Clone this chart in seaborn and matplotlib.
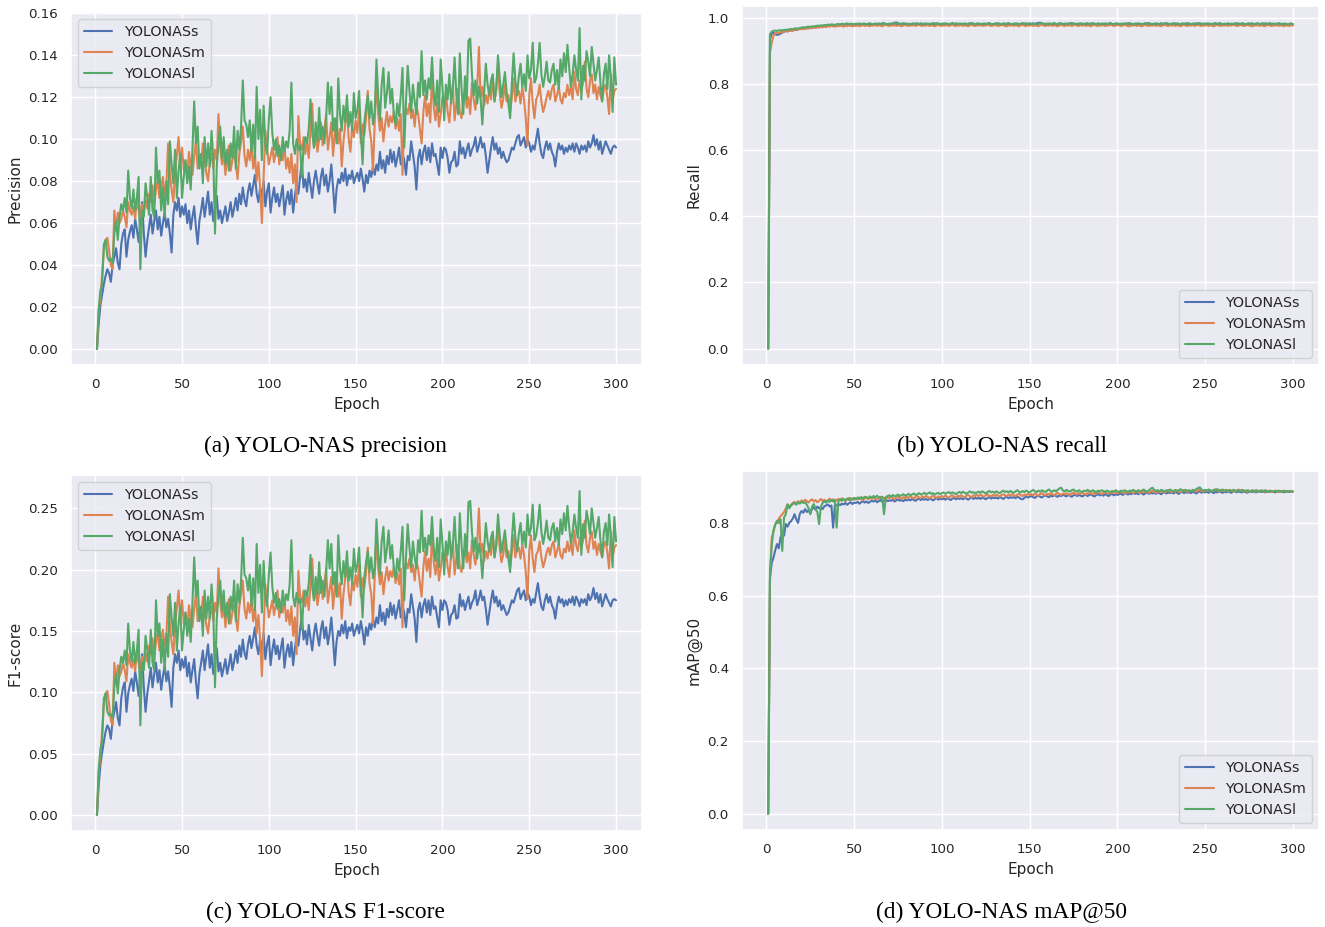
import numpy as np
import pandas as pd
import matplotlib
matplotlib.use("Agg")
import matplotlib.pyplot as plt
import seaborn as sns

epochs = list(range(1, 301))
models = ["YOLONASs", "YOLONASm", "YOLONASl"]
x_ticks = [0, 50, 100, 150, 200, 250, 300]

# ---- values, in thousandths (per-mille) ----
prec_s = [
    0, 12, 21, 26, 31, 35, 38, 36, 32, 40,
    44, 48, 41, 38, 50, 55, 57, 44, 52, 56,
    59, 53, 62, 57, 51, 60, 70, 55, 44, 52,
    58, 64, 55, 61, 66, 57, 63, 54, 60, 65,
    58, 62, 55, 46, 64, 70, 66, 72, 63, 68,
    64, 69, 60, 66, 57, 63, 68, 58, 50, 61,
    66, 72, 63, 69, 75, 64, 70, 61, 67, 73,
    62, 66, 60, 64, 68, 61, 65, 70, 63, 67,
    72, 66, 74, 69, 77, 71, 68, 75, 79, 73,
    78, 83, 74, 70, 77, 72, 80, 68, 75, 79,
    65, 72, 77, 70, 74, 68, 73, 78, 64, 71,
    75, 69, 76, 65, 73, 79, 74, 82, 89, 77,
    81, 75, 84, 78, 72, 80, 85, 79, 74, 82,
    86, 78, 83, 75, 80, 88, 77, 65, 76, 81,
    79, 84, 80, 86, 78, 83, 81, 85, 79, 82,
    84, 80, 86, 81, 75, 83, 79, 85, 82, 87,
    83, 88, 85, 94, 86, 90, 84, 92, 88, 95,
    89, 94, 87, 91, 96, 88, 93, 90, 83, 92,
    90, 99, 93, 87, 76, 91, 95, 88, 94, 97,
    90, 96, 89, 98, 92, 93, 88, 83, 96, 91,
    96, 95, 91, 84, 89, 90, 94, 87, 88, 99,
    93, 96, 91, 95, 98, 92, 95, 97, 101, 94,
    97, 101, 96, 98, 92, 84, 90, 96, 101, 95,
    98, 93, 96, 91, 94, 91, 89, 90, 93, 96,
    95, 98, 101, 102, 97, 99, 101, 96, 100, 98,
    94, 97, 95, 100, 105, 98, 93, 91, 96, 99,
    95, 98, 94, 92, 87, 94, 98, 95, 97, 93,
    96, 94, 97, 95, 98, 94, 98, 96, 93, 97,
    95, 97, 94, 99, 96, 98, 102, 97, 100, 95,
    99, 93, 96, 99, 97, 95, 93, 96, 97, 96,
]
prec_m = [
    0, 18, 24, 36, 48, 52, 53, 47, 40, 38,
    66, 57, 65, 60, 62, 66, 63, 58, 70, 66,
    64, 68, 62, 72, 66, 63, 69, 65, 71, 67,
    74, 70, 78, 69, 76, 80, 72, 77, 82, 74,
    79, 98, 84, 76, 70, 85, 92, 101, 88, 96,
    85, 90, 82, 94, 87, 83, 92, 99, 86, 91,
    88, 98, 90, 84, 80, 89, 93, 86, 95, 90,
    112, 96, 88, 94, 83, 91, 97, 85, 90, 94,
    88, 81, 93, 99, 106, 92, 87, 95, 90, 97,
    86, 93, 80, 89, 77, 60, 82, 104, 95, 88,
    92, 96, 89, 94, 101, 88, 95, 90, 97, 86,
    91, 84, 93, 79, 88, 70, 111, 98, 95, 101,
    93, 99, 91, 104, 117, 96, 102, 94, 100, 108,
    97, 104, 112, 95, 101, 108, 92, 103, 110, 98,
    105, 87, 99, 107, 115, 100, 94, 106, 101, 109,
    103, 114, 98, 107, 102, 110, 123, 105, 99, 85,
    108, 129, 112, 104, 110, 99, 107, 113, 106, 111,
    108, 113, 105, 110, 104, 112, 83, 109, 115, 112,
    117, 110, 114, 106, 116, 112, 105, 98, 113, 121,
    111, 117, 108, 132, 115, 109, 118, 106, 112, 120,
    115, 122, 113, 108, 119, 126, 109, 117, 124, 113,
    110, 118, 123, 115, 120, 112, 127, 119, 114, 124,
    144, 120, 125, 116, 121, 117, 124, 119, 129, 118,
    124, 136, 122, 115, 119, 126, 118, 121, 113, 120,
    129, 118, 122, 123, 117, 125, 119, 110, 97, 121,
    129, 117, 110, 119, 121, 126, 118, 113, 116, 120,
    123, 119, 124, 126, 118, 121, 125, 119, 117, 122,
    120, 126, 121, 125, 119, 132, 124, 121, 128, 123,
    127, 137, 124, 120, 128, 131, 122, 126, 119, 125,
    121, 118, 124, 126, 120, 112, 131, 118, 123, 124,
]
prec_l = [
    0, 19, 28, 31, 50, 52, 44, 42, 43, 41,
    55, 61, 52, 63, 69, 66, 72, 65, 85, 72,
    67, 76, 66, 72, 82, 38, 66, 63, 79, 72,
    64, 82, 66, 63, 96, 79, 85, 66, 77, 63,
    80, 69, 99, 88, 79, 95, 72, 85, 93, 72,
    82, 90, 79, 87, 76, 95, 118, 98, 106, 86,
    93, 79, 101, 87, 98, 87, 104, 91, 55, 87,
    98, 106, 91, 101, 88, 95, 85, 98, 91, 106,
    86, 104, 95, 106, 128, 109, 107, 101, 109, 94,
    107, 91, 125, 100, 114, 90, 116, 98, 93, 109,
    120, 103, 95, 100, 92, 97, 90, 101, 94, 99,
    96, 104, 127, 98, 93, 100, 95, 97, 82, 96,
    101, 98, 105, 119, 103, 96, 108, 99, 115, 100,
    106, 98, 110, 127, 112, 125, 104, 110, 98, 129,
    112, 104, 116, 108, 121, 106, 113, 104, 122, 110,
    114, 123, 104, 88, 108, 115, 121, 110, 118, 107,
    113, 138, 120, 109, 126, 134, 115, 122, 132, 117,
    124, 112, 107, 117, 111, 121, 134, 96, 118, 135,
    123, 113, 126, 118, 112, 127, 120, 142, 121, 128,
    119, 129, 124, 139, 122, 116, 128, 113, 138, 125,
    109, 126, 119, 131, 117, 124, 139, 121, 112, 141,
    124, 112, 130, 119, 147, 148, 131, 121, 128, 117,
    125, 119, 107, 122, 136, 126, 121, 128, 131, 118,
    124, 140, 129, 120, 126, 132, 122, 117, 110, 127,
    141, 128, 121, 130, 136, 125, 131, 123, 140, 129,
    133, 146, 127, 129, 136, 146, 131, 125, 130, 137,
    128, 127, 133, 136, 126, 133, 124, 138, 130, 141,
    132, 145, 134, 125, 131, 140, 133, 128, 153, 119,
    135, 128, 142, 137, 130, 144, 136, 128, 133, 139,
    127, 118, 131, 136, 124, 140, 129, 113, 139, 126,
]

recall_s = [
    0, 935, 952, 955, 950, 948, 949, 952, 955, 957,
    960, 959, 962, 961, 963, 964, 963, 965, 966, 968,
    967, 969, 968, 970, 969, 971, 972, 970, 973, 972,
    974, 973, 975, 974, 976, 975, 977, 976, 978, 977,
    978, 977, 979, 978, 980, 978, 979, 981, 979, 980,
    979, 981, 980, 978, 980, 982, 979, 981, 980, 978,
    980, 982, 979, 981, 980, 983, 980, 979, 981, 980,
    982, 980, 981, 979, 982, 980, 981, 983, 980, 979,
    981, 980, 982, 979, 981, 983, 980, 981, 979, 982,
    980, 981, 979, 982, 980, 981, 983, 980, 979, 981,
    982, 980, 981, 979, 980, 982, 981, 979, 980, 982,
    981, 979, 982, 980, 981, 983, 980, 981, 979, 980,
    982, 980, 981, 979, 981, 982, 980, 979, 981, 980,
    981, 983, 980, 981, 979, 982, 980, 981, 980, 979,
    981, 980, 982, 981, 979, 980, 982, 981, 980, 983,
    981, 982, 980, 983, 984, 985, 983, 981, 980, 982,
    980, 981, 979, 982, 980, 981, 983, 980, 979, 981,
    982, 980, 981, 983, 980, 979, 981, 982, 980, 981,
    979, 981, 983, 980, 982, 981, 979, 980, 982, 981,
    980, 982, 981, 979, 981, 983, 980, 981, 982, 980,
    981, 979, 982, 980, 981, 983, 981, 980, 979, 982,
    980, 982, 981, 979, 980, 982, 983, 981, 980, 981,
    982, 980, 979, 981, 983, 980, 982, 981, 979, 980,
    981, 983, 980, 982, 981, 979, 980, 982, 981, 980,
    982, 981, 979, 980, 982, 983, 981, 980, 982, 981,
    980, 982, 981, 979, 981, 983, 980, 981, 982, 980,
    981, 980, 982, 981, 979, 980, 982, 981, 983, 980,
    982, 981, 980, 982, 979, 981, 983, 980, 981, 982,
    980, 981, 983, 980, 982, 981, 979, 981, 982, 980,
    981, 983, 980, 981, 982, 980, 979, 981, 982, 980,
]
recall_m = [
    0, 895, 925, 945, 952, 955, 953, 957, 956, 958,
    960, 958, 961, 962, 960, 963, 965, 964, 966, 965,
    967, 966, 968, 967, 969, 968, 970, 969, 971, 970,
    972, 971, 973, 972, 974, 973, 975, 974, 973, 975,
    974, 976, 975, 973, 976, 974, 977, 975, 974, 976,
    975, 977, 974, 976, 978, 975, 977, 976, 974, 977,
    976, 978, 975, 977, 976, 974, 977, 979, 976, 975,
    977, 976, 978, 975, 977, 976, 974, 977, 978, 976,
    975, 977, 976, 978, 975, 977, 979, 976, 975, 977,
    976, 978, 975, 977, 976, 974, 977, 978, 976, 975,
    977, 976, 978, 975, 977, 979, 976, 975, 977, 976,
    978, 975, 977, 976, 974, 977, 978, 976, 975, 977,
    976, 978, 975, 977, 976, 979, 977, 975, 976, 978,
    977, 975, 976, 978, 977, 975, 974, 977, 976, 978,
    975, 977, 976, 974, 977, 978, 976, 975, 977, 976,
    978, 975, 977, 976, 974, 977, 979, 976, 975, 977,
    976, 978, 975, 977, 976, 974, 977, 978, 976, 975,
    977, 976, 978, 975, 977, 979, 976, 975, 977, 976,
    978, 975, 977, 976, 974, 977, 978, 976, 975, 977,
    976, 978, 975, 977, 976, 979, 977, 975, 976, 978,
    977, 975, 976, 978, 977, 975, 974, 977, 976, 978,
    975, 977, 976, 974, 977, 978, 976, 975, 977, 976,
    978, 975, 977, 976, 974, 977, 979, 976, 975, 977,
    976, 978, 975, 977, 976, 974, 977, 978, 976, 975,
    977, 976, 978, 975, 977, 979, 976, 975, 977, 976,
    978, 975, 977, 976, 974, 977, 978, 976, 975, 977,
    976, 978, 975, 977, 976, 979, 977, 975, 976, 978,
    977, 975, 976, 978, 977, 975, 974, 977, 976, 978,
    975, 977, 976, 974, 977, 978, 976, 975, 977, 976,
    978, 975, 977, 976, 974, 977, 976, 975, 977, 976,
]
recall_l = [
    0, 950, 958, 960, 961, 960, 962, 961, 963, 962,
    964, 963, 965, 966, 965, 967, 968, 967, 969, 970,
    971, 970, 972, 973, 972, 974, 973, 975, 976, 975,
    977, 976, 978, 977, 979, 978, 980, 979, 978, 980,
    981, 979, 982, 980, 981, 983, 980, 982, 981, 980,
    982, 981, 983, 980, 982, 981, 979, 982, 983, 981,
    980, 982, 981, 983, 980, 982, 984, 981, 980, 982,
    981, 983, 985, 986, 984, 981, 982, 980, 983, 981,
    982, 980, 981, 983, 982, 980, 981, 983, 982, 980,
    983, 981, 982, 980, 984, 982, 981, 983, 980, 982,
    981, 983, 982, 980, 982, 984, 981, 983, 982, 980,
    982, 981, 983, 980, 982, 981, 984, 982, 980, 983,
    981, 982, 980, 983, 981, 982, 984, 981, 980, 982,
    983, 981, 982, 980, 983, 981, 982, 984, 981, 980,
    982, 983, 981, 980, 982, 984, 981, 983, 982, 980,
    981, 983, 982, 980, 981, 983, 984, 981, 982, 980,
    983, 981, 982, 984, 981, 980, 982, 983, 981, 982,
    980, 982, 984, 981, 983, 982, 980, 981, 983, 982,
    981, 983, 980, 982, 981, 984, 982, 980, 983, 981,
    982, 980, 983, 981, 982, 984, 981, 980, 982, 983,
    981, 982, 980, 983, 982, 981, 984, 982, 980, 981,
    983, 981, 982, 980, 982, 983, 981, 984, 982, 980,
    981, 983, 982, 980, 982, 981, 983, 984, 981, 982,
    980, 982, 983, 981, 982, 980, 983, 981, 982, 984,
    981, 980, 982, 983, 981, 982, 984, 981, 980, 982,
    983, 981, 982, 980, 983, 982, 981, 984, 982, 980,
    982, 981, 983, 980, 982, 981, 983, 982, 980, 981,
    983, 982, 980, 981, 983, 982, 981, 980, 982, 983,
    981, 982, 980, 983, 981, 982, 984, 981, 980, 982,
    981, 983, 982, 980, 981, 982, 980, 981, 982, 981,
]

f1_s = [
    0, 24, 41, 51, 60, 68, 73, 70, 62, 77,
    84, 92, 79, 73, 95, 104, 108, 84, 99, 106,
    111, 101, 117, 108, 97, 113, 131, 104, 84, 99,
    109, 120, 104, 115, 124, 108, 118, 102, 113, 122,
    109, 117, 104, 88, 120, 131, 124, 134, 118, 127,
    120, 129, 113, 124, 108, 118, 127, 109, 95, 115,
    124, 134, 118, 129, 139, 120, 131, 115, 125, 136,
    117, 124, 113, 120, 127, 115, 122, 131, 118, 125,
    134, 124, 138, 129, 143, 132, 127, 139, 146, 136,
    144, 153, 138, 131, 143, 134, 148, 127, 139, 146,
    122, 134, 143, 131, 138, 127, 136, 144, 120, 132,
    139, 129, 141, 122, 136, 146, 138, 151, 163, 143,
    150, 139, 155, 144, 134, 148, 156, 146, 138, 151,
    158, 144, 153, 139, 148, 161, 143, 122, 141, 150,
    146, 155, 148, 158, 144, 153, 150, 156, 146, 151,
    155, 148, 158, 150, 139, 153, 146, 156, 151, 160,
    153, 161, 156, 171, 158, 165, 155, 168, 161, 173,
    163, 171, 160, 167, 175, 161, 170, 165, 153, 168,
    165, 180, 170, 160, 141, 167, 173, 161, 171, 176,
    165, 175, 163, 178, 168, 170, 161, 153, 175, 167,
    175, 173, 167, 155, 163, 165, 171, 160, 161, 180,
    170, 175, 167, 173, 178, 168, 173, 176, 183, 171,
    176, 183, 175, 178, 168, 155, 165, 175, 183, 173,
    178, 170, 175, 167, 171, 167, 163, 165, 170, 175,
    173, 178, 183, 185, 176, 180, 183, 175, 181, 178,
    171, 176, 173, 181, 189, 178, 170, 167, 175, 180,
    173, 178, 171, 168, 160, 171, 178, 173, 176, 170,
    175, 171, 176, 173, 178, 171, 178, 175, 170, 176,
    173, 176, 171, 180, 175, 178, 185, 176, 181, 173,
    180, 170, 175, 180, 176, 173, 170, 175, 176, 175,
]
f1_m = [
    0, 35, 47, 70, 92, 99, 101, 90, 77, 73,
    124, 108, 122, 113, 117, 124, 118, 109, 131, 124,
    120, 127, 117, 134, 124, 118, 129, 122, 132, 125,
    138, 131, 144, 129, 141, 148, 134, 143, 151, 138,
    146, 178, 155, 141, 131, 156, 168, 183, 161, 175,
    156, 165, 151, 171, 160, 153, 168, 180, 158, 167,
    161, 178, 165, 155, 148, 163, 170, 158, 173, 165,
    201, 175, 161, 171, 153, 167, 176, 156, 165, 171,
    161, 150, 170, 180, 191, 168, 160, 173, 165, 176,
    158, 170, 148, 163, 143, 113, 151, 188, 173, 161,
    168, 175, 163, 171, 183, 161, 173, 165, 176, 158,
    167, 155, 170, 146, 161, 131, 199, 178, 173, 183,
    170, 180, 167, 188, 209, 175, 185, 171, 181, 194,
    176, 188, 201, 173, 183, 194, 168, 186, 198, 178,
    189, 160, 180, 193, 206, 181, 171, 191, 183, 196,
    186, 204, 178, 193, 185, 198, 218, 189, 180, 156,
    194, 228, 201, 188, 198, 180, 193, 202, 191, 199,
    194, 202, 189, 198, 188, 201, 153, 196, 206, 201,
    209, 198, 204, 191, 207, 201, 189, 178, 202, 215,
    199, 209, 194, 232, 206, 196, 210, 191, 201, 214,
    206, 217, 202, 194, 212, 223, 196, 209, 220, 202,
    198, 210, 218, 206, 214, 201, 224, 212, 204, 220,
    250, 214, 221, 207, 215, 209, 220, 212, 228, 210,
    220, 238, 217, 206, 212, 223, 210, 215, 202, 214,
    228, 210, 217, 218, 209, 221, 212, 198, 176, 215,
    228, 209, 198, 212, 215, 223, 210, 202, 207, 214,
    218, 212, 220, 223, 210, 215, 221, 212, 209, 217,
    214, 223, 215, 221, 212, 232, 220, 215, 226, 218,
    224, 240, 220, 214, 226, 231, 217, 223, 212, 221,
    215, 210, 220, 223, 214, 201, 231, 210, 218, 220,
]
f1_l = [
    0, 37, 54, 60, 95, 99, 84, 81, 82, 79,
    104, 115, 99, 118, 129, 124, 134, 122, 156, 134,
    125, 141, 124, 134, 151, 73, 124, 118, 146, 134,
    120, 151, 124, 118, 175, 146, 156, 124, 143, 118,
    148, 129, 180, 161, 146, 173, 134, 156, 170, 134,
    151, 165, 146, 160, 141, 173, 210, 178, 191, 158,
    170, 146, 183, 160, 178, 160, 188, 167, 104, 160,
    178, 191, 167, 183, 161, 173, 156, 178, 167, 191,
    158, 188, 173, 191, 226, 196, 193, 183, 196, 171,
    193, 167, 221, 181, 204, 165, 207, 178, 170, 196,
    214, 186, 173, 181, 168, 176, 165, 183, 171, 180,
    175, 188, 224, 178, 170, 181, 173, 176, 151, 175,
    183, 178, 189, 212, 186, 175, 194, 180, 206, 181,
    191, 178, 198, 224, 201, 221, 188, 198, 178, 228,
    201, 188, 207, 194, 215, 191, 202, 188, 217, 198,
    204, 218, 188, 161, 194, 206, 215, 198, 210, 193,
    202, 241, 214, 196, 223, 235, 206, 217, 232, 209,
    220, 201, 193, 209, 199, 215, 235, 175, 210, 237,
    218, 202, 223, 210, 201, 224, 214, 248, 215, 226,
    212, 228, 220, 243, 217, 207, 226, 202, 241, 221,
    196, 223, 212, 231, 209, 220, 243, 215, 201, 246,
    220, 201, 229, 212, 255, 256, 231, 215, 226, 209,
    221, 212, 193, 217, 238, 223, 215, 226, 231, 210,
    220, 245, 228, 214, 223, 232, 217, 209, 198, 224,
    246, 226, 215, 229, 238, 221, 231, 218, 245, 228,
    234, 253, 224, 228, 238, 253, 231, 221, 229, 240,
    226, 224, 234, 238, 223, 234, 220, 241, 229, 246,
    232, 252, 235, 221, 231, 245, 234, 226, 264, 212,
    237, 226, 248, 240, 229, 250, 238, 226, 234, 243,
    224, 210, 231, 238, 220, 245, 228, 202, 243, 223,
]

map_s = [
    0, 650, 690, 705, 725, 742, 730, 760, 773, 765,
    797, 790, 800, 805, 812, 824, 810, 800, 825, 833,
    828, 838, 830, 835, 826, 840, 842, 836, 845, 840,
    843, 838, 846, 848, 851, 845, 848, 787, 850, 848,
    852, 849, 853, 851, 855, 850, 854, 857, 852, 856,
    855, 858, 853, 857, 860, 856, 859, 855, 858, 861,
    859, 862, 857, 860, 863, 858, 861, 864, 860, 862,
    861, 864, 859, 862, 865, 861, 863, 860, 864, 862,
    865, 862, 866, 863, 861, 865, 867, 863, 866, 864,
    866, 863, 867, 865, 862, 866, 868, 864, 867, 865,
    867, 864, 868, 866, 863, 867, 869, 865, 868, 866,
    868, 865, 869, 867, 864, 868, 870, 866, 869, 867,
    869, 866, 870, 868, 865, 869, 871, 867, 870, 868,
    870, 867, 871, 869, 866, 870, 872, 868, 871, 869,
    871, 868, 872, 870, 866, 865, 869, 873, 870, 872,
    874, 871, 869, 873, 875, 872, 870, 874, 876, 873,
    871, 875, 873, 877, 874, 872, 876, 874, 878, 875,
    873, 877, 875, 872, 876, 878, 874, 877, 875, 873,
    876, 878, 874, 877, 879, 875, 873, 877, 879, 876,
    878, 875, 879, 877, 874, 878, 880, 876, 879, 877,
    879, 881, 877, 880, 882, 878, 881, 879, 883, 880,
    882, 879, 883, 881, 878, 882, 884, 880, 883, 881,
    883, 880, 884, 882, 879, 883, 885, 881, 884, 882,
    884, 881, 885, 883, 880, 884, 886, 882, 885, 883,
    885, 882, 886, 884, 881, 885, 887, 883, 886, 884,
    886, 883, 887, 885, 882, 886, 884, 887, 885, 883,
    886, 884, 887, 885, 883, 886, 888, 884, 887, 885,
    884, 887, 885, 883, 886, 888, 885, 887, 884, 886,
    888, 885, 887, 884, 886, 888, 885, 887, 886, 884,
    887, 885, 888, 886, 884, 887, 886, 885, 887, 886,
]
map_m = [
    0, 640, 760, 775, 797, 800, 812, 818, 824, 830,
    840, 851, 845, 850, 855, 858, 852, 860, 856, 862,
    858, 864, 860, 856, 862, 865, 859, 863, 857, 861,
    866, 860, 864, 858, 862, 867, 861, 865, 859, 863,
    866, 862, 868, 864, 860, 865, 869, 863, 867, 864,
    868, 865, 870, 866, 862, 867, 871, 865, 869, 866,
    870, 867, 864, 869, 872, 867, 870, 866, 871, 868,
    872, 868, 865, 870, 873, 869, 866, 871, 868, 872,
    869, 873, 870, 867, 872, 874, 870, 868, 873, 871,
    874, 871, 868, 872, 875, 871, 869, 873, 870, 874,
    871, 875, 872, 869, 874, 876, 872, 870, 875, 873,
    876, 873, 870, 875, 877, 873, 871, 876, 874, 877,
    874, 878, 875, 872, 876, 879, 875, 873, 877, 875,
    878, 875, 872, 877, 879, 876, 874, 878, 876, 879,
    876, 873, 878, 880, 876, 874, 878, 876, 880, 877,
    879, 876, 881, 878, 875, 879, 882, 878, 876, 880,
    878, 882, 879, 876, 880, 883, 879, 877, 881, 879,
    882, 879, 877, 881, 884, 880, 878, 882, 880, 883,
    880, 878, 882, 885, 881, 879, 883, 881, 884, 882,
    879, 883, 886, 882, 880, 884, 882, 885, 883, 881,
    884, 887, 883, 881, 885, 883, 886, 884, 882, 885,
    888, 884, 882, 886, 884, 887, 885, 883, 886, 889,
    885, 883, 887, 885, 888, 886, 884, 887, 890, 886,
    884, 888, 886, 889, 887, 885, 888, 891, 887, 885,
    889, 887, 890, 888, 886, 889, 892, 888, 886, 890,
    888, 891, 889, 887, 890, 893, 889, 887, 891, 889,
    887, 890, 888, 891, 889, 886, 890, 888, 892, 889,
    887, 890, 888, 885, 889, 887, 890, 888, 886, 889,
    887, 890, 888, 886, 889, 887, 885, 888, 886, 889,
    887, 885, 888, 886, 889, 887, 885, 888, 886, 887,
]
map_l = [
    0, 670, 740, 780, 795, 806, 800, 810, 723, 815,
    824, 851, 840, 848, 852, 855, 850, 857, 853, 858,
    855, 857, 850, 840, 824, 845, 852, 838, 830, 797,
    845, 855, 860, 856, 862, 858, 863, 859, 864, 787,
    860, 865, 861, 866, 862, 867, 863, 868, 864, 869,
    865, 870, 866, 871, 867, 872, 870, 868, 873, 869,
    874, 870, 875, 871, 868, 872, 824, 870, 874, 876,
    872, 877, 873, 875, 878, 874, 876, 879, 875, 877,
    880, 876, 878, 881, 877, 879, 882, 878, 880, 883,
    879, 881, 884, 880, 882, 878, 881, 883, 879, 882,
    884, 880, 883, 885, 881, 884, 882, 879, 883, 885,
    882, 886, 883, 880, 884, 887, 883, 885, 881, 884,
    886, 883, 887, 884, 881, 885, 888, 884, 886, 883,
    887, 884, 882, 886, 889, 885, 887, 884, 888, 885,
    883, 887, 890, 886, 884, 888, 885, 889, 886, 884,
    888, 891, 887, 885, 889, 886, 890, 887, 885, 889,
    892, 888, 886, 890, 887, 891, 895, 897, 889, 887,
    891, 888, 886, 890, 892, 888, 886, 890, 887, 885,
    889, 887, 891, 888, 886, 890, 887, 885, 889, 886,
    890, 888, 885, 889, 887, 884, 888, 886, 890, 887,
    885, 889, 886, 890, 888, 885, 889, 887, 891, 888,
    886, 890, 887, 889, 892, 888, 886, 890, 894, 897,
    891, 888, 890, 887, 891, 889, 886, 890, 888, 892,
    889, 887, 891, 888, 890, 893, 889, 887, 891, 888,
    890, 887, 891, 889, 893, 896, 898, 892, 889, 891,
    888, 892, 890, 887, 891, 889, 893, 890, 888, 892,
    889, 891, 888, 890, 887, 891, 889, 886, 890, 888,
    891, 889, 887, 890, 888, 886, 889, 887, 890, 888,
    886, 889, 887, 890, 888, 885, 889, 887, 886, 888,
    887, 889, 886, 888, 887, 885, 888, 886, 887, 886,
]

panels = [
    ("Precision", [prec_s, prec_m, prec_l], "upper left", "(a) YOLO-NAS precision"),
    ("Recall", [recall_s, recall_m, recall_l], "lower right", "(b) YOLO-NAS recall"),
    ("F1-score", [f1_s, f1_m, f1_l], "upper left", "(c) YOLO-NAS F1-score"),
    ("mAP@50", [map_s, map_m, map_l], "lower right", "(d) YOLO-NAS mAP@50"),
]

W, H = 1325, 927
# axes boxes in pixels: left, top, right, bottom
boxes = [(71, 12, 642, 365), (742, 6, 1319, 365), (71, 475, 642, 831), (742, 471, 1319, 830)]
captions_xy = [(325, 446), (1002, 446), (325, 912), (1002, 912)]

sns.set_theme(style="darkgrid", palette="deep", font_scale=0.88,
              rc={"axes.labelsize": 11, "legend.fontsize": 10.3})

fig = plt.figure(figsize=(W / 100, H / 100), dpi=100)

for (ylabel, series, loc, caption), (l, t, r, b), (cx, cy) in zip(panels, boxes, captions_xy):
    frames = []
    for m, vals in zip(models, series):
        assert len(vals) == len(epochs), (ylabel, m, len(vals))
        frames.append(pd.DataFrame({"Epoch": epochs,
                                    "value": np.asarray(vals, float) / 1000.0,
                                    "Model": m}))
    df = pd.concat(frames, ignore_index=True)
    ax = fig.add_axes([l / W, 1 - b / H, (r - l) / W, (b - t) / H])
    sns.lineplot(data=df, x="Epoch", y="value", hue="Model", hue_order=models,
                 ax=ax, linewidth=1.5, errorbar=None)
    ax.set_xticks(x_ticks)
    ax.set_xlabel("Epoch")
    ax.set_ylabel(ylabel)
    handles, labels = ax.get_legend_handles_labels()
    ax.legend(handles, labels, loc=loc)
    fig.text(cx / W, 1 - cy / H, caption, ha="center", va="center",
             family="Liberation Serif", fontsize=16.8, color="black")

fig.savefig("out.png", dpi=100)
